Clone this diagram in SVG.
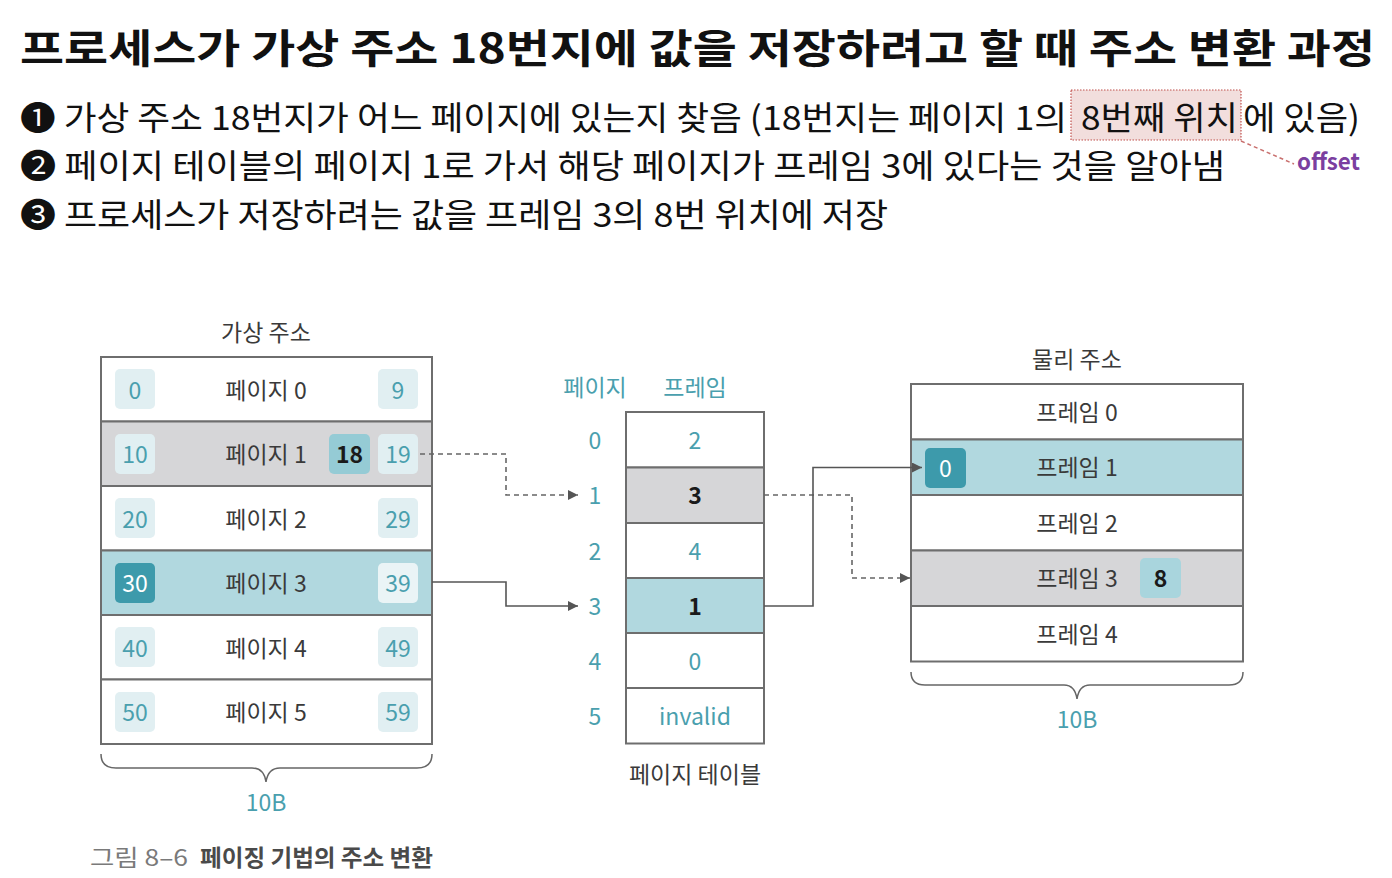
<svg xmlns="http://www.w3.org/2000/svg" width="1392" height="878" viewBox="0 0 1392 878">
<style>
  text { font-family: "Noto Sans CJK KR", "DejaVu Sans", sans-serif; }
  .title { font-size: 40px; font-weight: 700; fill: #111; }
  .line { font-size: 33px; fill: #111; }
  .lbl { font-size: 23px; fill: #3a3a3a; text-anchor: middle; dominant-baseline: central; }
  .tl { font-size: 23px; fill: #4a9fae; text-anchor: middle; dominant-baseline: central; }
  .bk { font-size: 23px; fill: #1a1a1a; font-weight: 700; text-anchor: middle; dominant-baseline: central; }
  .wh { font-size: 23px; fill: #ffffff; text-anchor: middle; dominant-baseline: central; }
  .row { stroke: #6e6e6e; stroke-width: 2; fill: #ffffff; }
  .gray { fill: #d6d6d8; }
  .teal { fill: #b1d8df; }
  .sb { fill: #e1eff2; }
  .sbw { fill: #eaf4f6; }
  .sbm { fill: #95cbd5; }
  .sbd { fill: #3d9aab; }
  .solid { fill: none; stroke: #555; stroke-width: 1.6; }
  .dash { fill: none; stroke: #666; stroke-width: 1.6; stroke-dasharray: 5 4; }
  .brace { fill: none; stroke: #666; stroke-width: 1.5; }
</style>
<defs>
  <marker id="ah" viewBox="0 0 10 10" refX="10" refY="5" markerWidth="10" markerHeight="10" markerUnits="userSpaceOnUse" orient="auto">
    <path d="M0,0 L10,5 L0,10 z" fill="#555"/>
  </marker>
</defs>

<g id="header">
  <text class="title" x="20" y="63" textLength="1355" lengthAdjust="spacingAndGlyphs">프로세스가 가상 주소 18번지에 값을 저장하려고 할 때 주소 변환 과정</text>
  <rect x="1071" y="90" width="170" height="50" fill="#f2dedd" stroke="#c0504d" stroke-width="1.2" stroke-dasharray="1.5 1.5"/>
  <text class="line" x="20" y="130" textLength="1047" lengthAdjust="spacingAndGlyphs">❶ 가상 주소 18번지가 어느 페이지에 있는지 찾음 (18번지는 페이지 1의</text>
  <text class="line" x="1081" y="130" textLength="157" lengthAdjust="spacingAndGlyphs">8번째 위치</text>
  <text class="line" x="1243" y="130" textLength="117" lengthAdjust="spacingAndGlyphs">에 있음)</text>
  <line x1="1241" y1="141" x2="1294" y2="164" stroke="#c9706e" stroke-width="1.5" stroke-dasharray="4 3"/>
  <text x="1297" y="170" font-size="23" font-weight="700" fill="#7b3fa0" textLength="63" lengthAdjust="spacingAndGlyphs">offset</text>
  <text class="line" x="20" y="178" textLength="1205" lengthAdjust="spacingAndGlyphs">❷ 페이지 테이블의 페이지 1로 가서 해당 페이지가 프레임 3에 있다는 것을 알아냄</text>
  <text class="line" x="20" y="227" textLength="868" lengthAdjust="spacingAndGlyphs">❸ 프로세스가 저장하려는 값을 프레임 3의 8번 위치에 저장</text>
</g>

<g id="virtual-memory">
  <text class="lbl" x="266" y="331">가상 주소</text>
  <g id="vpage0">
    <rect class="row" x="101" y="357" width="331" height="64.5"/>
    <rect class="sb" x="115" y="369" width="40" height="40" rx="5"/>
    <text class="tl" x="135" y="388.5">0</text>
    <text class="lbl" x="266" y="388.5">페이지 0</text>
    <rect class="sb" x="378" y="369" width="40" height="40" rx="5"/>
    <text class="tl" x="398" y="388.5">9</text>
  </g>
  <g id="vpage1">
    <rect class="row gray" x="101" y="421.5" width="331" height="64.5"/>
    <rect class="sb" x="115" y="434" width="40" height="40" rx="5"/>
    <text class="tl" x="135" y="453">10</text>
    <text class="lbl" x="266" y="453">페이지 1</text>
    <rect class="sbm" x="329" y="434" width="41" height="40" rx="5"/>
    <text class="bk" x="349.5" y="453" font-weight="400">18</text>
    <rect class="sb" x="378" y="434" width="40" height="40" rx="5"/>
    <text class="tl" x="398" y="453">19</text>
  </g>
  <g id="vpage2">
    <rect class="row" x="101" y="486" width="331" height="64.5"/>
    <rect class="sb" x="115" y="498" width="40" height="40" rx="5"/>
    <text class="tl" x="135" y="517.5">20</text>
    <text class="lbl" x="266" y="517.5">페이지 2</text>
    <rect class="sb" x="378" y="498" width="40" height="40" rx="5"/>
    <text class="tl" x="398" y="517.5">29</text>
  </g>
  <g id="vpage3">
    <rect class="row teal" x="101" y="550.5" width="331" height="64.5"/>
    <rect class="sbd" x="115" y="563" width="40" height="40" rx="5"/>
    <text class="wh" x="135" y="582">30</text>
    <text class="lbl" x="266" y="582">페이지 3</text>
    <rect class="sbw" x="378" y="563" width="40" height="40" rx="5"/>
    <text class="tl" x="398" y="582">39</text>
  </g>
  <g id="vpage4">
    <rect class="row" x="101" y="615" width="331" height="64.5"/>
    <rect class="sb" x="115" y="627" width="40" height="40" rx="5"/>
    <text class="tl" x="135" y="646.5">40</text>
    <text class="lbl" x="266" y="646.5">페이지 4</text>
    <rect class="sb" x="378" y="627" width="40" height="40" rx="5"/>
    <text class="tl" x="398" y="646.5">49</text>
  </g>
  <g id="vpage5">
    <rect class="row" x="101" y="679.5" width="331" height="64.5"/>
    <rect class="sb" x="115" y="692" width="40" height="40" rx="5"/>
    <text class="tl" x="135" y="711">50</text>
    <text class="lbl" x="266" y="711">페이지 5</text>
    <rect class="sb" x="378" y="692" width="40" height="40" rx="5"/>
    <text class="tl" x="398" y="711">59</text>
  </g>
  <path class="brace" d="M101,754 Q101,768 116,768 L252,768 Q264,768 266,782 Q268,768 280,768 L417,768 Q432,768 432,754"/>
  <text class="tl" x="266" y="801">10B</text>
</g>

<g id="page-table">
  <text class="tl" x="595" y="386">페이지</text>
  <text class="tl" x="695" y="386">프레임</text>
  <g id="pt0">
    <rect class="row" x="626" y="412" width="138" height="55.5"/>
    <text class="tl" x="595" y="439">0</text>
    <text class="tl" x="695" y="439">2</text>
  </g>
  <g id="pt1">
    <rect class="row gray" x="626" y="467.5" width="138" height="55.5"/>
    <text class="tl" x="595" y="494">1</text>
    <text class="bk" x="695" y="494">3</text>
  </g>
  <g id="pt2">
    <rect class="row" x="626" y="523" width="138" height="55"/>
    <text class="tl" x="595" y="549.5">2</text>
    <text class="tl" x="695" y="549.5">4</text>
  </g>
  <g id="pt3">
    <rect class="row teal" x="626" y="578" width="138" height="55"/>
    <text class="tl" x="595" y="604.5">3</text>
    <text class="bk" x="695" y="604.5">1</text>
  </g>
  <g id="pt4">
    <rect class="row" x="626" y="633" width="138" height="55"/>
    <text class="tl" x="595" y="659.5">4</text>
    <text class="tl" x="695" y="659.5">0</text>
  </g>
  <g id="pt5">
    <rect class="row" x="626" y="688" width="138" height="55.5"/>
    <text class="tl" x="595" y="715">5</text>
    <text class="tl" x="695" y="715">invalid</text>
  </g>
  <text class="lbl" x="695" y="773">페이지 테이블</text>
</g>

<g id="physical-memory">
  <text class="lbl" x="1077" y="358">물리 주소</text>
  <g id="frame0">
    <rect class="row" x="911" y="384" width="332" height="55.5"/>
    <text class="lbl" x="1077" y="411">프레임 0</text>
  </g>
  <g id="frame1">
    <rect class="row teal" x="911" y="439.5" width="332" height="55.5"/>
    <rect class="sbd" x="925" y="448" width="41" height="40" rx="5"/>
    <text class="wh" x="945.5" y="467">0</text>
    <text class="lbl" x="1077" y="466">프레임 1</text>
  </g>
  <g id="frame2">
    <rect class="row" x="911" y="495" width="332" height="55.5"/>
    <text class="lbl" x="1077" y="521.5">프레임 2</text>
  </g>
  <g id="frame3">
    <rect class="row gray" x="911" y="550.5" width="332" height="55.5"/>
    <text class="lbl" x="1077" y="577">프레임 3</text>
    <rect fill="#a9d5dd" x="1140" y="558" width="41" height="40" rx="5"/>
    <text class="bk" x="1160.5" y="577">8</text>
  </g>
  <g id="frame4">
    <rect class="row" x="911" y="606" width="332" height="55.5"/>
    <text class="lbl" x="1077" y="632.5">프레임 4</text>
  </g>
  <path class="brace" d="M911,672 Q911,685 925,685 L1064,685 Q1075,685 1077,699 Q1079,685 1090,685 L1229,685 Q1243,685 1243,672"/>
  <text class="tl" x="1077" y="718">10B</text>
</g>

<g id="connectors">
  <path class="dash" d="M420,454 H506 V495 H578" marker-end="url(#ah)"/>
  <path class="solid" d="M432,582 H506 V606 H578" marker-end="url(#ah)"/>
  <path class="dash" d="M764,495 H852 V578 H910" marker-end="url(#ah)"/>
  <path class="solid" d="M764,606 H813 V467.5 H922" marker-end="url(#ah)"/>
</g>

<g id="caption">
  <text x="90" y="866" font-size="23" fill="#7a7a7a" textLength="98" lengthAdjust="spacingAndGlyphs">그림 8–6</text>
  <text x="200" y="866" font-size="23" font-weight="700" fill="#4a4a4a" textLength="233" lengthAdjust="spacingAndGlyphs">페이징 기법의 주소 변환</text>
</g>
</svg>
